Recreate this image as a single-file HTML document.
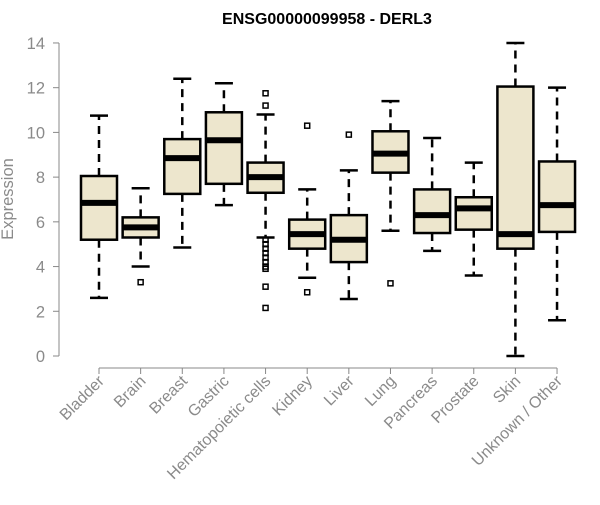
<!DOCTYPE html>
<html><head><meta charset="utf-8"><style>
body{margin:0;background:#fff}
svg{font-family:"Liberation Sans",Arial,sans-serif}
</style></head><body>
<svg id="c" width="600" height="500">
<text x="327" y="24" text-anchor="middle" font-size="16" font-weight="bold">ENSG00000099958 - DERL3</text>
<text transform="translate(13,199) rotate(-90)" text-anchor="middle" font-size="16.5" fill="#8a8a8a">Expression</text>
<g id="plot"></g>
</svg>
<script>
const categories=["Bladder","Brain","Breast","Gastric","Hematopoietic cells","Kidney","Liver","Lung","Pancreas","Prostate","Skin","Unknown / Other"];
const whiskerLow=[2.6,4.0,4.85,6.75,5.3,3.5,2.55,5.6,4.7,3.6,0.0,1.6];
const q1=[5.2,5.3,7.25,7.7,7.3,4.8,4.2,8.2,5.5,5.65,4.8,5.55];
const median=[6.85,5.75,8.85,9.65,8.0,5.45,5.2,9.05,6.3,6.6,5.45,6.75];
const q3=[8.05,6.2,9.7,10.9,8.65,6.1,6.3,10.05,7.45,7.1,12.05,8.7];
const whiskerHigh=[10.75,7.5,12.4,12.2,10.8,7.45,8.3,11.4,9.75,8.65,14.0,12.0];
const outliers=[[],[3.3],[],[],[11.75,11.2,5.2,5.0,4.8,4.6,4.4,4.2,4.0,3.9,3.1,2.15],[10.3,2.85],[9.9],[3.25],[],[],[],[]];
const yTicks=[0,2,4,6,8,10,12,14];
const ns="http://www.w3.org/2000/svg";
const g=document.getElementById("plot");
const y=v=>356-v*22.36;
const x=i=>99+i*41.64;
function el(t,a,p){const e=document.createElementNS(ns,t);for(const k in a)e.setAttribute(k,a[k]);(p||g).appendChild(e);return e;}
let ax=el("path",{d:"M59 43V356",stroke:"#888",fill:"none"});


yTicks.forEach(t=>{
 el("line",{x1:53,x2:59,y1:y(t),y2:y(t),stroke:"#888"});
 const tx=el("text",{x:45,y:y(t)+6,"text-anchor":"end","font-size":16.5,fill:"#8a8a8a"});
 tx.textContent=t;
 
 
});
let bx=el("path",{d:"M"+x(0)+" 368H"+x(11),stroke:"#888",fill:"none"});


categories.forEach((c,i)=>{
 const cx=x(i),w=18;
 const grp=el("g",{});
 
 
 el("line",{x1:cx,x2:cx,y1:y(q3[i]),y2:y(whiskerHigh[i]),stroke:"#000","stroke-width":2.5,"stroke-dasharray":"8,6"},grp);
 el("line",{x1:cx,x2:cx,y1:y(q1[i]),y2:y(whiskerLow[i]),stroke:"#000","stroke-width":2.5,"stroke-dasharray":"8,6"},grp);
 el("line",{x1:cx-9,x2:cx+9,y1:y(whiskerHigh[i]),y2:y(whiskerHigh[i]),stroke:"#000","stroke-width":2.5},grp);
 el("line",{x1:cx-9,x2:cx+9,y1:y(whiskerLow[i]),y2:y(whiskerLow[i]),stroke:"#000","stroke-width":2.5},grp);
 el("rect",{x:cx-w,y:y(q3[i]),width:2*w,height:y(q1[i])-y(q3[i]),fill:"#ede6cd",stroke:"#000","stroke-width":2.5},grp);
 el("line",{x1:cx-w,x2:cx+w,y1:y(median[i]),y2:y(median[i]),stroke:"#000","stroke-width":6},grp);
 outliers[i].forEach(o=>el("rect",{x:cx-2.5,y:y(o)-2.5,width:5,height:5,fill:"none",stroke:"#000","stroke-width":1.5},grp));
 el("line",{x1:cx,x2:cx,y1:368,y2:374,stroke:"#888"});
 const t=el("text",{transform:`translate(${cx+6},${382}) rotate(-45)`,"text-anchor":"end","font-size":16,fill:"#8a8a8a"});
 t.textContent=c;
 
 
});
</script>
</body></html>
